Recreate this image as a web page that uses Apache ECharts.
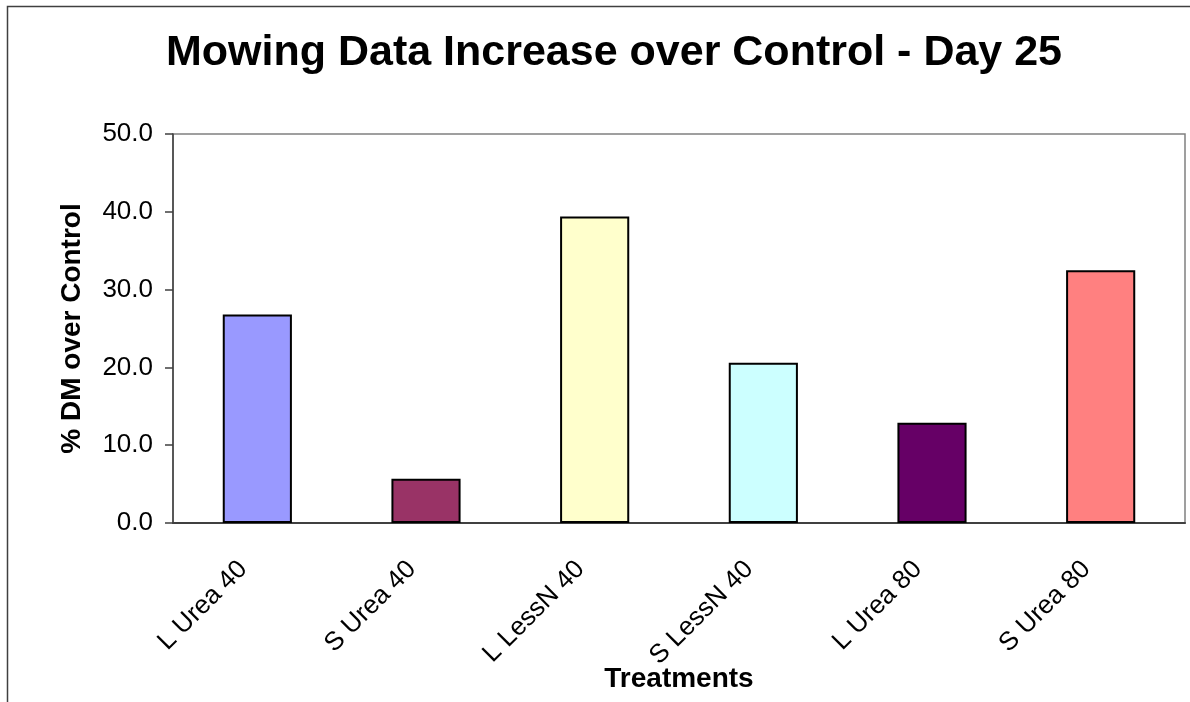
<!DOCTYPE html>
<html>
<head>
<meta charset="utf-8">
<script src="https://cdn.jsdelivr.net/npm/echarts@6/dist/echarts.min.js"></script>
<style>
  html, body { margin: 0; padding: 0; background: #ffffff; }
  #chart { width: 1190px; height: 702px; }
</style>
</head>
<body>
<div id="chart"></div>
<script>
// Treatments and their dry-matter increase over control (%), day 25
const treatments = ['L Urea 40', 'S Urea 40', 'L LessN 40', 'S LessN 40', 'L Urea 80', 'S Urea 80'];
const dmIncrease = [26.8, 5.7, 39.4, 20.6, 12.9, 32.5];
const barColors = ['#9999FF', '#993366', '#FFFFCC', '#CCFFFF', '#660066', '#FF8080'];

const chart = echarts.init(document.getElementById('chart'), null, { renderer: 'canvas' });

const font = '"Liberation Sans", Arial, sans-serif';

chart.setOption({
  animation: false,
  backgroundColor: '#ffffff',
  title: {
    text: 'Mowing Data Increase over Control - Day 25',
    left: 609,
    textAlign: 'center',
    top: 27,
    textStyle: { fontFamily: font, fontSize: 43, fontWeight: 'bold', color: '#000000' }
  },
  graphic: [{
    type: 'rect',
    shape: { x: 7.5, y: 6.5, width: 1200, height: 720 },
    style: { fill: 'none', stroke: '#404040', lineWidth: 1.5 },
    silent: true
  }],
  grid: {
    left: 173, top: 134, right: 5, bottom: 179,
    outerBoundsMode: 'none',
    containLabel: false,
    show: true, borderColor: '#808080', borderWidth: 1.5, backgroundColor: '#ffffff'
  },
  xAxis: {
    type: 'category',
    data: treatments,
    name: 'Treatments',
    nameLocation: 'middle',
    nameGap: 156,
    nameMoveOverlap: false,
    nameTextStyle: {
      fontFamily: font, fontSize: 28, fontWeight: 'bold', color: '#000000',
      verticalAlign: 'middle'
    },
    axisLine: { lineStyle: { color: '#404040', width: 2 } },
    axisTick: { show: false },
    axisLabel: {
      rotate: 45, margin: 28, interval: 0, padding: [0, 20, 0, 0],
      fontFamily: font, fontSize: 26, color: '#000000'
    }
  },
  yAxis: {
    type: 'value',
    min: 0, max: 50, interval: 10,
    name: '% DM over Control',
    nameLocation: 'middle',
    nameGap: 87,
    nameMoveOverlap: false,
    nameTextStyle: { fontFamily: font, fontSize: 28, fontWeight: 'bold', color: '#000000' },
    axisLine: { show: true, lineStyle: { color: '#404040', width: 1.5 } },
    axisTick: { show: true, length: 8, lineStyle: { color: '#404040', width: 1.5 } },
    splitLine: { show: false },
    axisLabel: {
      margin: 20, fontFamily: font, fontSize: 26, color: '#000000',
      formatter: v => v.toFixed(1)
    }
  },
  series: [{
    type: 'bar',
    barWidth: '41%',
    data: dmIncrease.map((v, i) => ({
      value: v,
      itemStyle: { color: barColors[i], borderColor: '#000000', borderWidth: 2 }
    }))
  }]
});
</script>
</body>
</html>
